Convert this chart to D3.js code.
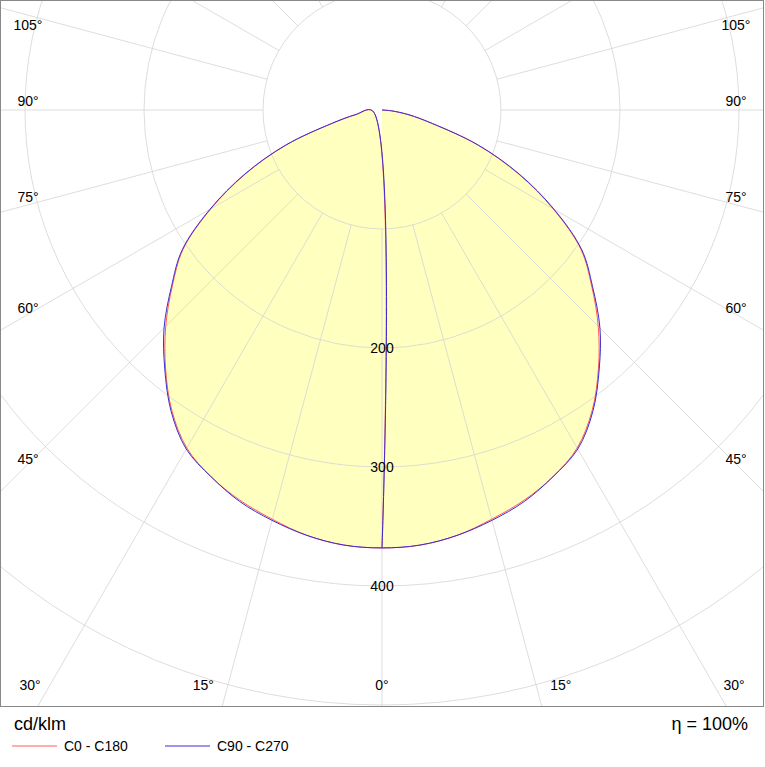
<!DOCTYPE html>
<html><head><meta charset="utf-8">
<script src="https://cdn.jsdelivr.net/npm/d3@7"></script>
<style>body{margin:0;background:#fff;font-family:Arial,"Liberation Sans",sans-serif}</style>
</head><body><div id="chart"></div>
<script>
// intensity in cd/klm by angle (deg from nadir)
var angles = [0,5,10,15,20,25,30,35,40,45,50,55,60,65,70,75,80,85,90];
var c0 = [368,367,363,356,349,340,328,308,283,257,230,204,166,126,85,43,22,8,0];
var c90 = [368,367,363,357,350,340,329,309,284,259,231,205,167,127,86,44,23,8,0];
var ringVals = [100,200,300,400,500,600,700,800];
var ringLabels = [200,300,400];
var rayAngles = [15,30,45,60,75,90,105,120,135,150,165,180];
var edgeLabels = [105,90,75,60,45];
var bottomLabels = [-30,-15,0,15,30];

var W = 765, H = 767, plotH = 706, cx = 382, cy = 110;
var svg = d3.select("#chart").append("svg").attr("width", W).attr("height", H);
var r = d3.scaleLinear().domain([0,100]).range([0,119]);

svg.append("clipPath").attr("id","c").append("rect").attr("x",1).attr("y",1).attr("width",762).attr("height",plotH-1);
var g = svg.append("g").attr("clip-path","url(#c)");

function pts(vals){
  var right = angles.map(function(a,i){ var t=a*Math.PI/180; return [cx+r(vals[i])*Math.sin(t), cy+r(vals[i])*Math.cos(t)]; });
  var left = [];
  for (var i=1;i<angles.length-1;i++){ var t=-angles[i]*Math.PI/180; left.push([cx+r(vals[i])*Math.sin(t), cy+r(vals[i])*Math.cos(t)]); }
  return right.reverse().concat(left).concat([right[right.length-1]]);
}
var line = d3.line().curve(d3.curveCatmullRom);
// fill first, grid over it
g.append("path").attr("d",line(pts(c0))).attr("fill","#ffffc0").attr("stroke","none");

rayAngles.forEach(function(a){
  [a,-a].forEach(function(b){
    var t = b*Math.PI/180;
    g.append("line").attr("x1",cx+r(100)*Math.sin(t)).attr("y1",cy+r(100)*Math.cos(t))
      .attr("x2",cx+1200*Math.sin(t)).attr("y2",cy+1200*Math.cos(t))
      .attr("stroke","#d4d4d4").attr("stroke-opacity",0.8);
  });
});
g.append("line").attr("x1",cx).attr("y1",cy+r(100)).attr("x2",cx).attr("y2",900).attr("stroke","#d4d4d4").attr("stroke-opacity",0.8);
ringVals.forEach(function(v){
  g.append("circle").attr("cx",cx).attr("cy",cy).attr("r",r(v)).attr("fill","none").attr("stroke","#d4d4d4").attr("stroke-opacity",0.8);
});

g.append("path").attr("d",line(pts(c0))).attr("fill","none").attr("stroke","#ff5a5a");
g.append("path").attr("d",line(pts(c90))).attr("fill","none").attr("stroke","#3b2bd6");

ringLabels.forEach(function(v){
  g.append("text").attr("x",cx).attr("y",cy+r(v)+5).attr("text-anchor","middle").attr("font-size",14).text(v);
});

edgeLabels.forEach(function(a){
  var t=a*Math.PI/180, y=cy+(740-cx)/Math.sin(t)*Math.cos(t)-4;
  y=Math.max(y,30);
  g.append("text").attr("x",28).attr("y",y).attr("text-anchor","middle").attr("font-size",14).text(a+"°");
  g.append("text").attr("x",736).attr("y",y).attr("text-anchor","middle").attr("font-size",14).text(a+"°");
});
bottomLabels.forEach(function(a){
  var t=Math.abs(a)*Math.PI/180, x=(690-cy)*Math.tan(t)*1.15;
  x = Math.min(x, 352);
  g.append("text").attr("x",cx+(a<0?-x:x)).attr("y",690).attr("text-anchor","middle").attr("font-size",14).text(Math.abs(a)+"°");
});

svg.append("rect").attr("x",0.5).attr("y",0.5).attr("width",763).attr("height",plotH).attr("fill","none").attr("stroke","#888");

svg.append("text").attr("x",14).attr("y",730).attr("font-size",18).text("cd/klm");
svg.append("text").attr("x",748).attr("y",730).attr("text-anchor","end").attr("font-size",18).text("η = 100%");
var leg = [["C0 - C180","#ff5a5a",12],["C90 - C270","#3b2bd6",165]];
leg.forEach(function(l){
  svg.append("line").attr("x1",l[2]).attr("x2",l[2]+45).attr("y1",746).attr("y2",746).attr("stroke",l[1]);
  svg.append("text").attr("x",l[2]+52).attr("y",751).attr("font-size",14).text(l[0]);
});
</script></body></html>
